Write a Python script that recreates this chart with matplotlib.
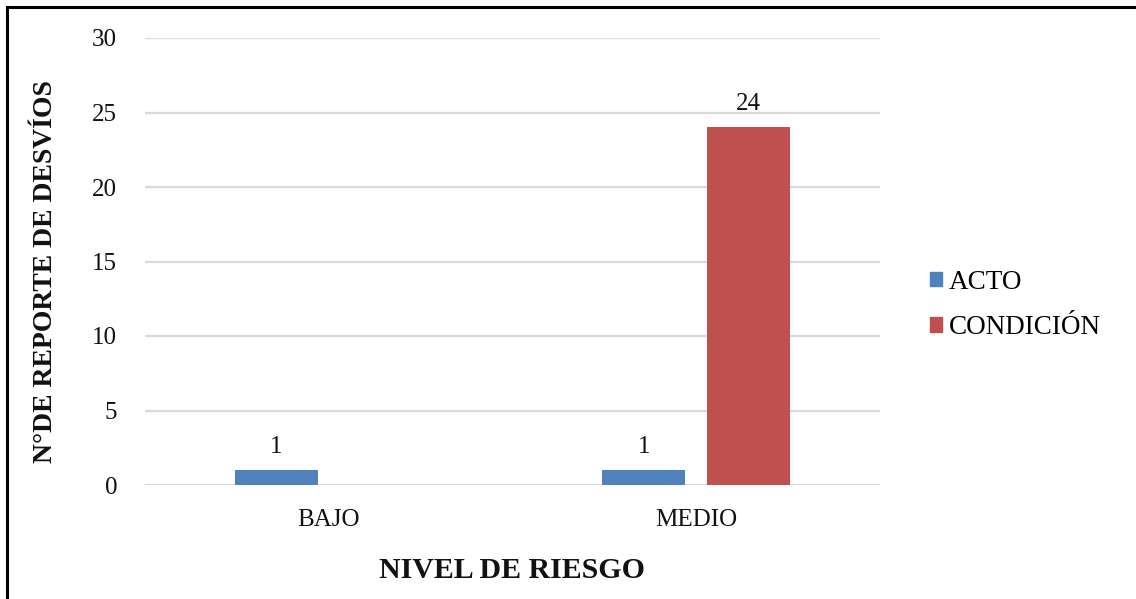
import matplotlib
matplotlib.use("Agg")
import matplotlib.pyplot as plt
from matplotlib.patches import Rectangle
import numpy as np

categories = ["BAJO", "MEDIO"]
series_names = ["ACTO", "CONDICIÓN"]
acto = [1, 1]
condicion = [0, 24]
bar_labels = [["1", "1"], [None, "24"]]
y_ticks = [0, 5, 10, 15, 20, 25, 30]

colors = ["#4F81BD", "#C0504D"]
plt.rcParams["font.family"] = ["Liberation Serif", "DejaVu Serif"]

W, H = 1136, 599
fig = plt.figure(figsize=(W / 100, H / 100), dpi=100)
ax = fig.add_axes([145 / W, 1 - 485 / H, (880 - 145) / W, (485 - 38) / H])

x = np.arange(len(categories))
width = 0.226
offset = 0.143
for i, (vals, name) in enumerate(zip([acto, condicion], series_names)):
    pos = x + (-offset if i == 0 else offset)
    bars = ax.bar(pos, vals, width, color=colors[i], label=name, zorder=3)
    for b, lab in zip(bars, bar_labels[i]):
        if lab is not None:
            ax.annotate(lab, (b.get_x() + b.get_width() / 2, b.get_height()),
                        xytext=(0, 9), textcoords="offset points",
                        ha="center", va="bottom", fontsize=18, color="#111111")

ax.set_xlim(-0.5, 1.5)
ax.set_ylim(0, 30)
ax.set_yticks(y_ticks)
ax.set_xticks(x)
ax.set_xticklabels(categories)
ax.tick_params(axis="both", length=0, labelsize=18, colors="#111111")
ax.tick_params(axis="y", pad=20)
ax.tick_params(axis="x", pad=17)
ax.grid(axis="y", color="#d9d9d9", linewidth=1.6, zorder=0)
for s in ax.spines.values():
    s.set_visible(False)

fig.text(46 / W, 1 - 272 / H, "N°DE REPORTE DE DESVÍOS", rotation=90,
         ha="center", va="center", fontsize=20, fontweight="bold", color="#111111")
fig.text(512 / W, 1 - 570 / H, "NIVEL DE RIESGO",
         ha="center", va="center", fontsize=21.5, fontweight="bold", color="#111111")

handles = [Rectangle((0, 0), 1, 1, color=c) for c in colors]
fig.legend(handles, series_names, loc="center left",
           bbox_to_anchor=(930 / W, 1 - 305 / H), frameon=False,
           fontsize=19.5, handlelength=0.45, handleheight=0.45,
           handletextpad=0.25, labelspacing=0.75, borderpad=0, borderaxespad=0)

# page frame
fig.add_artist(Rectangle((7 / W, -0.1), 1.2, 1 - 7 / H + 0.1,
                         transform=fig.transFigure, fill=False,
                         edgecolor="black", linewidth=2.2))

fig.savefig("out.png", dpi=100, facecolor="white")
